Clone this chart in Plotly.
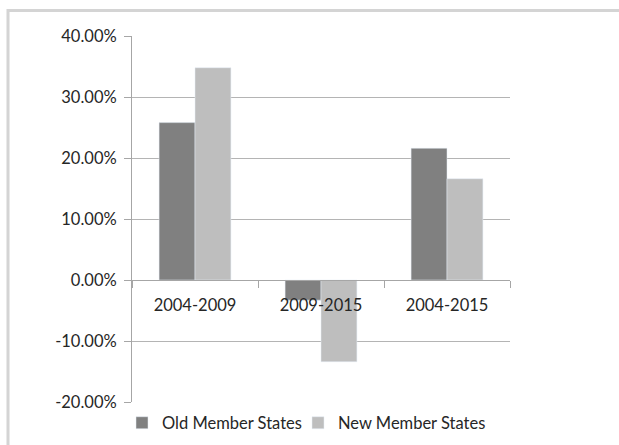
import plotly.graph_objects as go

categories = ["2004-2009", "2009-2015", "2004-2015"]
old_states = [25.8, -3.3, 21.6]
new_states = [34.8, -13.4, 16.6]
series_names = ["Old Member States", "New Member States"]
y_ticks = [-20, -10, 0, 10, 20, 30, 40]
y_tick_labels = [f"{v:.2f}%" for v in y_ticks]

W, H = 619, 445
L, R, T, B = 132, 109, 36, 43
pw, ph = W - L - R, H - T - B

def px_x(p):
    return (p - L) / pw

def px_y(p):
    return (H - B - p) / ph

font = dict(family="Lato, 'Open Sans', sans-serif", size=16.5, color="#262626")

fig = go.Figure()
fig.add_bar(x=categories, y=old_states, name=series_names[0], marker_color="#808080",
            legend="legend")
fig.add_bar(x=categories, y=new_states, name=series_names[1], marker_color="#bebebe",
            legend="legend2")

legend_common = dict(orientation="h", xref="container", yref="container",
                     xanchor="left", y=(H - 423) / H, yanchor="middle",
                     font=font, bgcolor="rgba(0,0,0,0)")

fig.update_layout(
    width=W, height=H,
    margin=dict(l=L, r=R, t=T, b=B, autoexpand=False),
    paper_bgcolor="white", plot_bgcolor="white",
    barmode="group", bargap=0.43, bargroupgap=0,
    font=font,
    showlegend=True,
    legend=dict(x=122 / W, **legend_common),
    legend2=dict(x=298 / W, **legend_common),
)
fig.update_yaxes(
    range=[-20, 40], tickvals=y_ticks, ticktext=y_tick_labels,
    showgrid=True, gridcolor="#b4b4b4", gridwidth=1,
    showline=True, linecolor="#a6a6a6", linewidth=1,
    ticks="outside", ticklen=7, tickcolor="#a6a6a6",
    ticklabelstandoff=4,
    zeroline=False, tickfont=font,
)
fig.update_xaxes(
    anchor="free", position=px_y(280),
    showline=True, linecolor="#a6a6a6", linewidth=1,
    ticks="outside", ticklen=7, tickcolor="#a6a6a6", tickson="boundaries",
    ticklabelstandoff=10,
    showgrid=False, tickfont=font,
)
# outer frame (top and left edges)
fx0, fy_top, fx1, fy_bot = px_x(8), px_y(10.5), px_x(630), px_y(460)
fig.add_shape(type="path", xref="paper", yref="paper",
              path=f"M {fx0},{fy_bot} L {fx0},{fy_top} L {fx1},{fy_top}",
              line=dict(color="#d4d4d4", width=3))

fig.write_html("out.html", config={"displayModeBar": False})
